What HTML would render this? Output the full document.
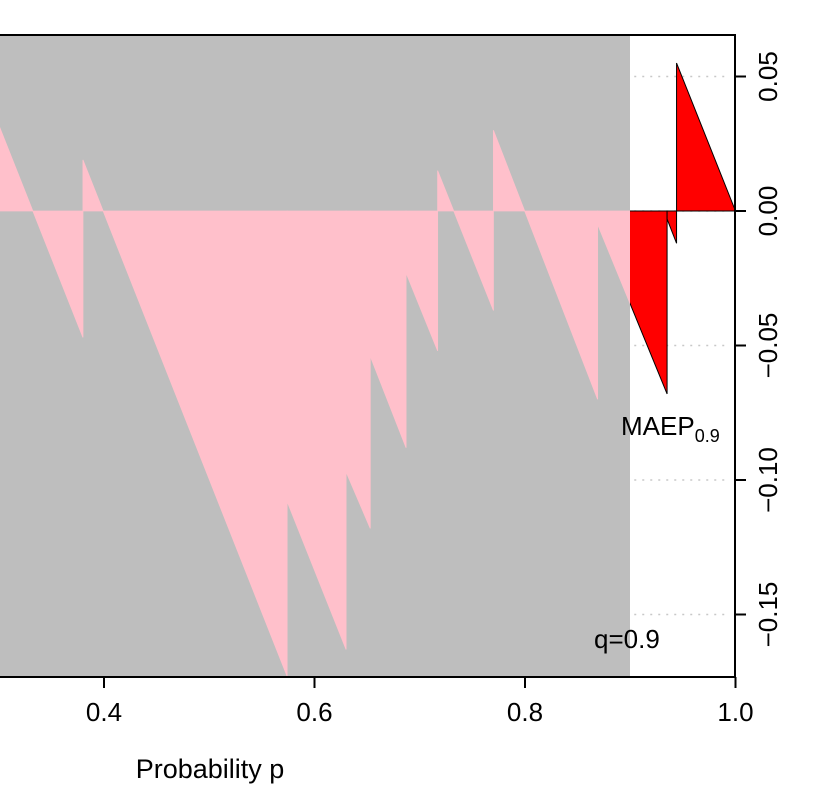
<!DOCTYPE html>
<html><head><meta charset="utf-8"><style>
body{margin:0;background:#fff}
svg{display:block;font-family:"Liberation Sans",sans-serif}
</style></head><body>
<svg id="chart" width="837" height="787">
<defs>
<clipPath id="cpPink"><rect x="0" y="0" width="630" height="787"/></clipPath>
<clipPath id="cpRed"><rect x="630" y="0" width="207" height="787"/></clipPath>
</defs>
<rect x="0" y="35" width="630" height="641" fill="#bebebe"/>
<g id="grid"></g>
<g id="marks"></g>
<g id="axes"></g>
<text x="621" y="435" font-size="26">MAEP<tspan font-size="18" dy="7">0.9</tspan></text>
<text x="594" y="648" font-size="26">q=0.9</text>
<text x="210" y="778" font-size="27" text-anchor="middle">Probability p</text>
</svg>
<script>
const segStart = [0.30, 0.380, 0.574, 0.630, 0.653, 0.687, 0.717, 0.770, 0.869, 0.935, 0.944];
const segEnd   = [0.380, 0.574, 0.630, 0.653, 0.687, 0.717, 0.770, 0.869, 0.935, 0.944, 1.0];
const startVals = [0.032, 0.019, -0.108, -0.097, -0.054, -0.023, 0.015, 0.030, -0.005, -0.003, 0.055];
const endVals   = [-0.047, -0.173, -0.163, -0.118, -0.088, -0.052, -0.037, -0.070, -0.068, -0.012, 0.000];
const xTicks = [0.4, 0.6, 0.8, 1.0];
const xTickLabels = ["0.4", "0.6", "0.8", "1.0"];
const yTicks = [0.05, 0.00, -0.05, -0.10, -0.15];
const yTickLabels = ["0.05", "0.00", "\u22120.05", "\u22120.10", "\u22120.15"];
const qLevel = 0.9;

const NS = "http://www.w3.org/2000/svg";
const xS = p => 104 + (p - 0.4) * 1052.5;
const yS = v => 211 - v * 2690;
function mk(tag, attrs, parent){const e=document.createElementNS(NS,tag);for(const k in attrs)e.setAttribute(k,attrs[k]);parent.appendChild(e);return e;}
const marks = document.getElementById('marks'), grid = document.getElementById('grid'), axes = document.getElementById('axes');

yTicks.forEach((t,i)=>{
  const g = mk('line',{x1:xS(qLevel)+4,x2:727,y1:yS(t),y2:yS(t),stroke:'#c8c8c8','stroke-width':1.5,'stroke-dasharray':'2,6'},grid);
  
  
});

function segPoly(i){
  const x1=xS(segStart[i]), x2=xS(segEnd[i]), y0=yS(0);
  return `${x1},${y0} ${x1},${yS(startVals[i])} ${x2},${yS(endVals[i])} ${x2},${y0}`;
}
for(let i=0;i<segStart.length;i++){
  const pk = mk('polygon',{points:segPoly(i),fill:'pink',stroke:'pink','stroke-width':0.8,'clip-path':'url(#cpPink)'},marks);
  
  
  const rd = mk('polygon',{points:segPoly(i),fill:'red',stroke:'#000','stroke-width':1,'clip-path':'url(#cpRed)'},marks);
  
  
}

const fr = mk('polyline',{points:'0,35 735,35 735,677 0,677',fill:'none',stroke:'#000','stroke-width':2},axes);



xTicks.forEach((t,i)=>{
  const tk = mk('line',{x1:xS(t),x2:xS(t),y1:677,y2:688,stroke:'#000','stroke-width':2},axes);
  
  
  const lb = mk('text',{x:xS(t),y:721,'font-size':26,'text-anchor':'middle'},axes);
  lb.textContent = xTickLabels[i];
  
  
});
yTicks.forEach((t,i)=>{
  const tk = mk('line',{x1:735,x2:746,y1:yS(t),y2:yS(t),stroke:'#000','stroke-width':2},axes);
  
  
  const lb = mk('text',{x:777,y:yS(t),'font-size':26,'text-anchor':'middle',transform:`rotate(-90 777 ${yS(t)})`},axes);
  lb.textContent = yTickLabels[i];
  
  
});
</script>
</body></html>
